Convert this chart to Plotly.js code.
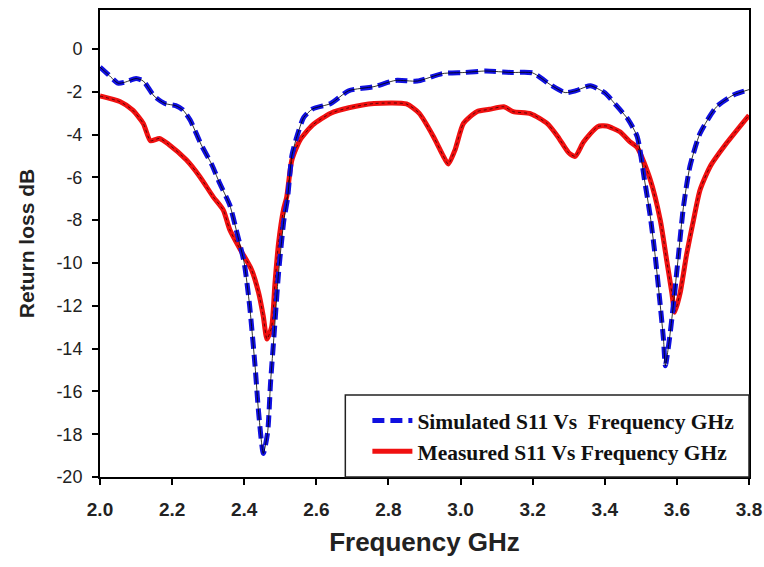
<!DOCTYPE html>
<html>
<head>
<meta charset="utf-8">
<script src="https://cdn.plot.ly/plotly-3.0.1.min.js"></script>
<style>html,body{margin:0;padding:0;background:#fff;}#chart{width:764px;height:567px;}</style>
</head>
<body>
<div id="chart"></div>
<script>
const simFreq = [2.00,2.02,2.05,2.07,2.10,2.12,2.15,2.18,2.21,2.23,2.25,2.28,2.31,2.33,2.36,2.38,2.40,2.415,2.43,2.44,2.453,2.465,2.473,2.483,2.495,2.51,2.52,2.532,2.546,2.565,2.59,2.64,2.69,2.76,2.82,2.88,2.95,3.01,3.07,3.14,3.20,3.25,3.29,3.32,3.36,3.40,3.43,3.465,3.49,3.51,3.526,3.54,3.554,3.563,3.568,3.579,3.59,3.604,3.618,3.636,3.664,3.71,3.757,3.80];
const simS11 = [-0.85,-1.15,-1.6,-1.55,-1.38,-1.5,-2.2,-2.55,-2.65,-2.85,-3.32,-4.45,-5.4,-6.2,-7.3,-8.6,-10.0,-12.0,-14.8,-17.0,-18.9,-17.9,-15.6,-13.3,-10.5,-8.0,-7.0,-5.0,-4.1,-3.2,-2.8,-2.55,-1.95,-1.76,-1.47,-1.5,-1.15,-1.1,-1.03,-1.1,-1.12,-1.68,-2.04,-1.95,-1.72,-2.05,-2.6,-3.3,-4.1,-6.1,-7.8,-9.7,-12.0,-13.6,-14.8,-13.6,-12.0,-9.7,-7.4,-5.5,-3.95,-2.7,-2.15,-1.9];
const measFreq = [2.00,2.055,2.09,2.12,2.14,2.165,2.19,2.24,2.277,2.314,2.342,2.36,2.39,2.42,2.44,2.453,2.463,2.476,2.485,2.495,2.509,2.518,2.532,2.555,2.59,2.64,2.69,2.76,2.85,2.885,2.925,2.952,2.966,2.985,3.008,3.045,3.08,3.12,3.146,3.195,3.24,3.27,3.30,3.318,3.341,3.38,3.405,3.442,3.47,3.49,3.526,3.554,3.572,3.586,3.594,3.609,3.627,3.646,3.664,3.692,3.738,3.80];
const measS11 = [-2.2,-2.46,-2.85,-3.48,-4.29,-4.18,-4.45,-5.19,-5.97,-6.91,-7.53,-8.45,-9.4,-10.3,-11.4,-12.5,-13.55,-13.0,-11.0,-9.1,-7.5,-6.9,-5.2,-4.25,-3.55,-3.0,-2.75,-2.55,-2.57,-3.0,-4.1,-5.0,-5.38,-4.7,-3.48,-2.93,-2.82,-2.7,-2.93,-3.03,-3.48,-4.1,-4.85,-5.02,-4.35,-3.63,-3.6,-3.87,-4.34,-4.6,-6.1,-8.0,-9.9,-11.4,-12.3,-11.4,-9.6,-8.0,-6.6,-5.5,-4.4,-3.1];
const xTicks = [2.0,2.2,2.4,2.6,2.8,3.0,3.2,3.4,3.6,3.8];
const yTicks = [-20,-18,-16,-14,-12,-10,-8,-6,-4,-2,0];
const simName = "<b>Simulated S11 Vs\u00a0 Frequency GHz</b>";
const measName = "<b>Measured S11 Vs Frequency GHz</b>";

const traces = [
  {x: measFreq, y: measS11, mode: 'lines', name: measName, line: {color: '#f01010', width: 5, shape: 'spline', smoothing: 0.6}, legendrank: 2},
  {x: measFreq, y: measS11, mode: 'lines', showlegend: false, hoverinfo: 'skip', line: {color: 'rgba(40,0,0,0.75)', width: 1, dash: 'dot', shape: 'spline', smoothing: 0.6}},
  {x: simFreq, y: simS11, mode: 'lines', name: simName, line: {color: '#1010e0', width: 5, dash: '12px,6px', shape: 'spline', smoothing: 0.6}, legendrank: 1},
  {x: simFreq, y: simS11, mode: 'lines', showlegend: false, hoverinfo: 'skip', line: {color: 'rgba(0,0,0,0.8)', width: 1, shape: 'spline', smoothing: 0.6}}
];

const layout = {
  width: 764, height: 567,
  margin: {l: 100, r: 15, t: 10, b: 90},
  paper_bgcolor: '#fff', plot_bgcolor: '#fff',
  showlegend: true,
  legend: {
    x: 0.412, y: 0.088, xanchor: 'left', yanchor: 'middle',
    bgcolor: 'rgba(0,0,0,0)', borderwidth: 0,
    font: {family: 'Liberation Serif, Times New Roman, serif', size: 21.5, color: '#111'},
    tracegroupgap: 0, itemwidth: 40,
    traceorder: 'normal'
  },
  shapes: [
    {type: 'rect', xref: 'paper', yref: 'paper', x0: 0.378, x1: 1, y0: 0, y1: 0.1756,
     line: {color: '#222', width: 1.5}, fillcolor: 'rgba(255,255,255,0)', layer: 'above'}
  ],
  xaxis: {
    range: [2.0, 3.8], tickvals: xTicks, ticktext: xTicks.map(v => '<b>' + v.toFixed(1) + '</b>'),
    ticks: 'outside', ticklen: 6, tickwidth: 2, tickcolor: '#000',
    ticklabelposition: 'outside', ticklabelstandoff: 8,
    showline: true, linecolor: '#000', linewidth: 2, mirror: true,
    showgrid: false, zeroline: false,
    tickfont: {family: 'Liberation Sans, Arial, sans-serif', size: 19, color: '#222'},
    title: {text: '<b>Frequency GHz</b>', font: {family: 'Liberation Sans, Arial, sans-serif', size: 26, color: '#222'}, standoff: 14}
  },
  yaxis: {
    range: [-20, 1.82], tickvals: yTicks, ticktext: yTicks.map(v => String(v)),
    ticks: 'outside', ticklen: 6, tickwidth: 2, tickcolor: '#000',
    ticklabelposition: 'outside', ticklabelstandoff: 6,
    showline: true, linecolor: '#000', linewidth: 2, mirror: true,
    showgrid: false, zeroline: false,
    tickfont: {family: 'Liberation Sans, Arial, sans-serif', size: 18, color: '#222'},
    title: {text: '<b>Return loss dB</b>', font: {family: 'Liberation Sans, Arial, sans-serif', size: 21, color: '#222'}, standoff: 16}
  }
};

Plotly.newPlot('chart', traces, layout, {displayModeBar: false, staticPlot: true});
</script>
</body>
</html>
